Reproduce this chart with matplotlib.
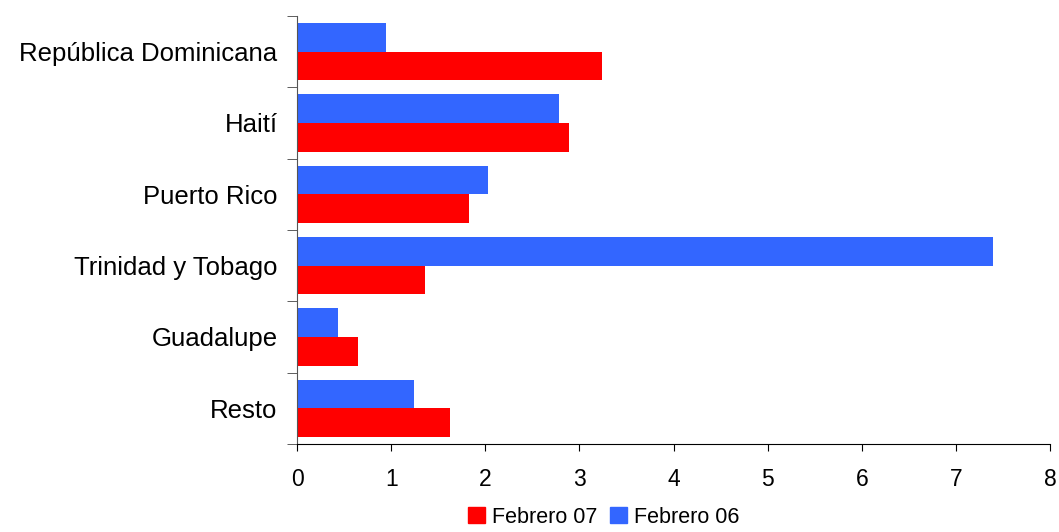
import numpy as np
import matplotlib
matplotlib.use("Agg")
import matplotlib.pyplot as plt
from matplotlib.patches import Patch

plt.rcParams["font.family"] = ["Liberation Sans", "DejaVu Sans"]

paises = ["República Dominicana", "Haití", "Puerto Rico", "Trinidad y Tobago", "Guadalupe", "Resto"]
feb07 = [3.24, 2.89, 1.83, 1.36, 0.65, 1.63]
feb06 = [0.95, 2.78, 2.03, 7.39, 0.43, 1.24]
xticks = list(range(0, 9))

ROJO = "#FF0000"; AZUL = "#3366FF"

fig = plt.figure(figsize=(10.59, 5.32), dpi=100)
ax = fig.add_axes([0.2805, 0.1654, 0.7110, 0.8046])

n = len(paises)
y = np.arange(n)[::-1]
h = 0.4
ax.barh(y + h / 2, feb06, height=h, color=AZUL)
ax.barh(y - h / 2, feb07, height=h, color=ROJO)

ax.set_xlim(0, 8)
ax.set_ylim(-0.5, n - 0.5)
ax.set_xticks(xticks)
ax.set_xticklabels([str(v) for v in xticks], fontsize=16.5)
ax.set_yticks(y)
ax.set_yticklabels(paises, fontsize=18.5)
ax.set_yticks(np.arange(-0.5, n), minor=True)
ax.tick_params(axis="y", which="major", length=0, pad=14)
ax.tick_params(axis="y", which="minor", length=7, color="#444444")
ax.tick_params(axis="x", length=5, pad=12)
for s in ("top", "right"):
    ax.spines[s].set_visible(False)
ax.spines["left"].set_color("#555555")

# leyenda centrada bajo el eje
handles = [Patch(color=ROJO, label="Febrero 07"), Patch(color=AZUL, label="Febrero 06")]
fig.legend(handles=handles, loc="lower center", bbox_to_anchor=(0.570, -0.028), ncol=2,
           frameon=False, fontsize=15.5, handlelength=0.8, handleheight=0.8,
           handletextpad=0.3, columnspacing=0.6)

fig.savefig("out.png", dpi=100, facecolor="white")
